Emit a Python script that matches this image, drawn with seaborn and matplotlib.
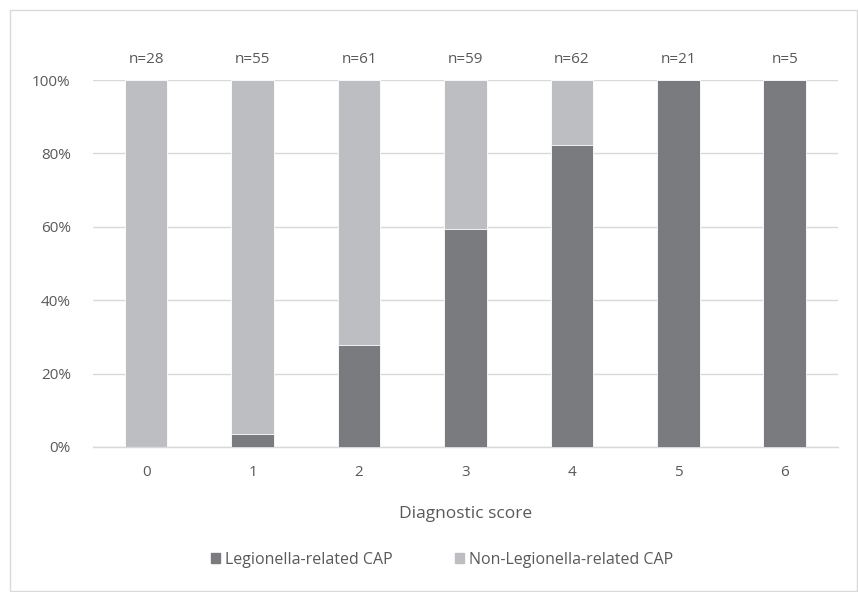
import matplotlib
matplotlib.use("Agg")
import matplotlib.pyplot as plt
from matplotlib.patches import Rectangle
import seaborn as sns
import pandas as pd

# Diagnostic score categories, patients per score and share of Legionella-related CAP (%)
scores = ["0", "1", "2", "3", "4", "5", "6"]
n_patients = [28, 55, 61, 59, 62, 21, 5]
legionella_pct = [0.0, 3.6, 27.9, 59.3, 82.3, 100.0, 100.0]
non_legionella_pct = [100.0 - v for v in legionella_pct]

df = pd.DataFrame({
    "score": scores,
    "legionella": legionella_pct,
    "non_legionella": non_legionella_pct,
})
df["total"] = df["legionella"] + df["non_legionella"]

dark = "#7a7b7f"
light = "#bdbec2"
text_col = "#595959"
grid_col = "#d9d9d9"

sns.set_theme(style="white")
plt.rcParams["font.family"] = ["Open Sans", "DejaVu Sans"]

fig = plt.figure(figsize=(8.58, 5.92), dpi=100)
ax = fig.add_axes([93 / 858, 1 - 447 / 592, (838 - 93) / 858, (447 - 80) / 592])

# stacked bars: full column in light grey, Legionella share overlaid in dark grey
sns.barplot(data=df, x="score", y="total", color=light, width=0.4,
            saturation=1, ax=ax, edgecolor="white", linewidth=0.6, zorder=2)
sns.barplot(data=df, x="score", y="legionella", color=dark, width=0.4,
            saturation=1, ax=ax, edgecolor="white", linewidth=0.6, zorder=3)

ax.set_ylim(0, 100)
ax.set_xlim(-0.5, len(scores) - 0.5)
ax.set_yticks(range(0, 101, 20))
ax.set_yticklabels([f"{t}%" for t in range(0, 101, 20)])
ax.yaxis.grid(True, color=grid_col, linewidth=1)
ax.set_axisbelow(True)
for side in ["top", "right", "left"]:
    ax.spines[side].set_visible(False)
ax.spines["bottom"].set_color(grid_col)
ax.spines["bottom"].set_linewidth(1)
ax.tick_params(axis="both", length=0, labelsize=11, colors=text_col)
ax.tick_params(axis="x", pad=13)
ax.tick_params(axis="y", pad=16)
ax.set_ylabel("")
ax.set_xlabel("Diagnostic score", fontsize=12.5, color=text_col, labelpad=19)

# sample size above each column
for i, n in enumerate(n_patients):
    ax.text(i, df["total"][i] + 3.6, f"n={n}", ha="center", va="bottom",
            fontsize=11, color=text_col)

handles = [Rectangle((0, 0), 1, 1, color=dark), Rectangle((0, 0), 1, 1, color=light)]
fig.legend(handles, ["Legionella-related CAP", "Non-Legionella-related CAP"],
           loc="center", bbox_to_anchor=(442 / 858, 1 - 560 / 592), ncol=2,
           frameon=False, fontsize=11.5, labelcolor=text_col,
           handlelength=0.6, handleheight=0.6, handletextpad=0.3, columnspacing=3.9)

# light frame around the chart area
fig.patches.append(Rectangle((9.5 / 858, 1 / 592), (856.5 - 9.5) / 858, (581) / 592,
                             transform=fig.transFigure, fill=False,
                             edgecolor="#d9d9d9", linewidth=1))

fig.savefig("out.png", dpi=100, facecolor="white")
